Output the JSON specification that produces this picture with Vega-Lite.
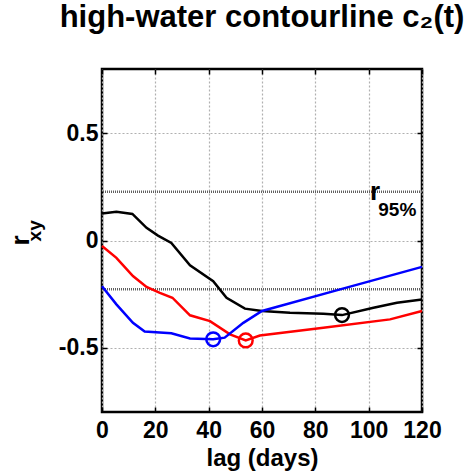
{
  "$schema": "https://vega.github.io/schema/vega-lite/v6.json",
  "width": 320,
  "height": 343,
  "autosize": {"type": "none"},
  "padding": {"left": 102, "top": 69, "right": 51, "bottom": 62},
  "background": "white",
  "title": {
    "text": "high-water contourline c₂(t)",
    "font": "Liberation Sans",
    "fontSize": 31,
    "fontWeight": "bold",
    "color": "black",
    "anchor": "middle",
    "offset": 34
  },
  "config": {
    "view": {"stroke": "black", "strokeWidth": 2.5},
    "axis": {
      "labelFont": "Liberation Sans",
      "labelFontSize": 23,
      "labelFontWeight": "bold",
      "labelColor": "black",
      "labelFlush": false,
      "labelOverlap": false,
      "titleFont": "Liberation Sans",
      "titleFontSize": 24,
      "titleFontWeight": "bold",
      "titleColor": "black",
      "domain": false,
      "tickColor": "black",
      "tickSize": -5,
      "tickWidth": 1.5,
      "gridColor": "#b0b0b0",
      "gridDash": [2, 2],
      "gridWidth": 1.2
    }
  },
  "resolve": {"axis": {"x": "independent", "y": "independent"}},
  "datasets": {
    "curves": [
      {"lag": 0, "r": 0.126, "s": "black"},
      {"lag": 5.4, "r": 0.134, "s": "black"},
      {"lag": 11.4, "r": 0.124, "s": "black"},
      {"lag": 16.7, "r": 0.059, "s": "black"},
      {"lag": 21, "r": 0.023, "s": "black"},
      {"lag": 26, "r": -0.011, "s": "black"},
      {"lag": 33, "r": -0.116, "s": "black"},
      {"lag": 41.7, "r": -0.19, "s": "black"},
      {"lag": 46.7, "r": -0.267, "s": "black"},
      {"lag": 53.6, "r": -0.318, "s": "black"},
      {"lag": 60, "r": -0.329, "s": "black"},
      {"lag": 70.5, "r": -0.337, "s": "black"},
      {"lag": 83, "r": -0.342, "s": "black"},
      {"lag": 90, "r": -0.348, "s": "black"},
      {"lag": 101.8, "r": -0.314, "s": "black"},
      {"lag": 110.6, "r": -0.29, "s": "black"},
      {"lag": 120, "r": -0.275, "s": "black"},
      {"lag": 0, "r": -0.026, "s": "red"},
      {"lag": 5.4, "r": -0.081, "s": "red"},
      {"lag": 11.6, "r": -0.166, "s": "red"},
      {"lag": 16.7, "r": -0.217, "s": "red"},
      {"lag": 21.7, "r": -0.244, "s": "red"},
      {"lag": 26.4, "r": -0.267, "s": "red"},
      {"lag": 33, "r": -0.349, "s": "red"},
      {"lag": 40.5, "r": -0.376, "s": "red"},
      {"lag": 48, "r": -0.438, "s": "red"},
      {"lag": 53.9, "r": -0.466, "s": "red"},
      {"lag": 59.2, "r": -0.443, "s": "red"},
      {"lag": 83, "r": -0.407, "s": "red"},
      {"lag": 108, "r": -0.368, "s": "red"},
      {"lag": 120, "r": -0.329, "s": "red"},
      {"lag": 0, "r": -0.213, "s": "blue"},
      {"lag": 5.4, "r": -0.298, "s": "blue"},
      {"lag": 11.6, "r": -0.384, "s": "blue"},
      {"lag": 16, "r": -0.425, "s": "blue"},
      {"lag": 26, "r": -0.433, "s": "blue"},
      {"lag": 33, "r": -0.457, "s": "blue"},
      {"lag": 41.7, "r": -0.461, "s": "blue"},
      {"lag": 46, "r": -0.453, "s": "blue"},
      {"lag": 53, "r": -0.384, "s": "blue"},
      {"lag": 60, "r": -0.329, "s": "blue"},
      {"lag": 89.3, "r": -0.228, "s": "blue"},
      {"lag": 120, "r": -0.123, "s": "blue"}
    ],
    "minima": [
      {"lag": 90, "r": -0.348, "s": "black"},
      {"lag": 53.9, "r": -0.466, "s": "red"},
      {"lag": 41.7, "r": -0.461, "s": "blue"}
    ],
    "sig": [{"r": 0.227}, {"r": -0.227}],
    "labels": [
      {"lag": 100.5, "r": 0.19, "t": "r", "k": "big"},
      {"lag": 103.6, "r": 0.112, "t": "95%", "k": "small"}
    ],
    "ylab": [
      {"lag": -27.4, "r": 0.0, "t": "r", "k": "big"},
      {"lag": -23.0, "r": 0.045, "t": "xy", "k": "small"}
    ]
  },
  "layer": [
    {
      "data": {"name": "sig"},
      "mark": {"type": "rule", "color": "#606060", "strokeWidth": 2.5, "strokeDash": [1, 1]},
      "encoding": {
        "y": {
          "field": "r", "type": "quantitative",
          "scale": {"domain": [-0.8, 0.8], "nice": false},
          "axis": {"values": [-0.5, 0, 0.5], "grid": true, "title": null, "labelPadding": 9, "labelExpr": "datum.value == 0 ? '0' : (datum.value < 0 ? '-0.5' : '0.5')"}
        }
      }
    },
    {
      "data": {"name": "curves"},
      "mark": {"type": "line", "strokeWidth": 2.5},
      "encoding": {
        "x": {
          "field": "lag", "type": "quantitative",
          "scale": {"domain": [0, 120], "nice": false},
          "axis": {"values": [0, 20, 40, 60, 80, 100, 120], "grid": true, "title": "lag (days)", "labelPadding": 12, "titlePadding": 4}
        },
        "y": {"field": "r", "type": "quantitative", "axis": null},
        "color": {"field": "s", "type": "nominal", "scale": {"domain": ["black", "red", "blue"], "range": ["#000000", "#ff0000", "#0000ff"]}, "legend": null},
        "detail": {"field": "s"}
      }
    },
    {
      "data": {"name": "minima"},
      "mark": {"type": "point", "shape": "circle", "filled": false, "size": 190, "strokeWidth": 2.5, "opacity": 1},
      "encoding": {
        "x": {"field": "lag", "type": "quantitative", "axis": {"orient": "top", "values": [0, 20, 40, 60, 80, 100, 120], "labels": false, "title": null, "grid": false}},
        "y": {"field": "r", "type": "quantitative", "axis": {"orient": "right", "values": [-0.5, 0, 0.5], "labels": false, "title": null, "grid": false}},
        "color": {"field": "s", "type": "nominal", "legend": null}
      }
    },
    {
      "data": {"name": "labels"},
      "mark": {"type": "text", "font": "Liberation Sans", "fontWeight": "bold", "color": "black", "align": "left", "baseline": "alphabetic"},
      "encoding": {
        "x": {"field": "lag", "type": "quantitative", "axis": null},
        "y": {"field": "r", "type": "quantitative", "axis": null},
        "text": {"field": "t"},
        "size": {"field": "k", "type": "nominal", "scale": {"domain": ["big", "small"], "range": [26, 19]}, "legend": null}
      }
    },
    {
      "data": {"name": "ylab"},
      "mark": {"type": "text", "font": "Liberation Sans", "fontWeight": "bold", "color": "black", "align": "center", "baseline": "alphabetic", "angle": 270},
      "encoding": {
        "x": {"field": "lag", "type": "quantitative", "axis": null},
        "y": {"field": "r", "type": "quantitative", "axis": null},
        "text": {"field": "t"},
        "size": {"field": "k", "type": "nominal", "scale": {"domain": ["big", "small"], "range": [26, 19]}, "legend": null}
      }
    }
  ]
}
